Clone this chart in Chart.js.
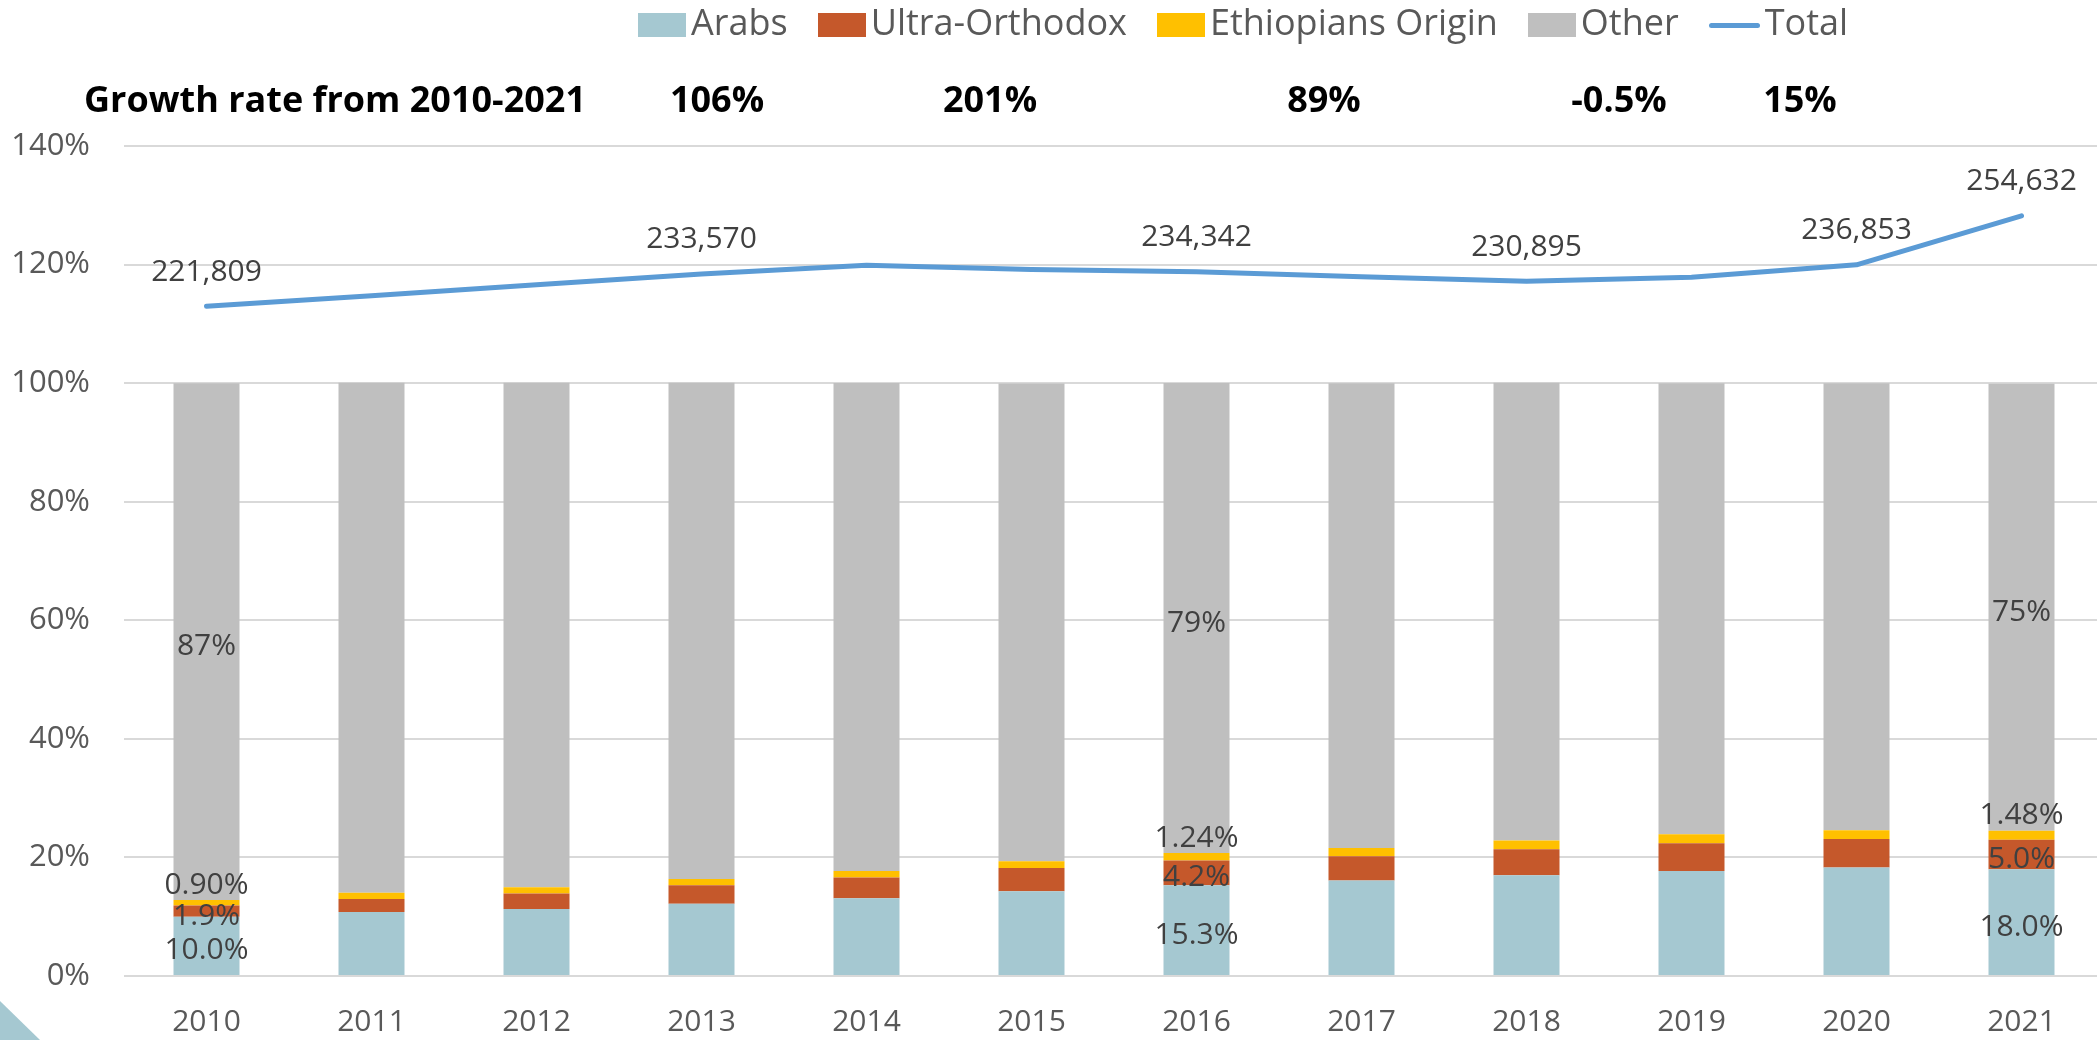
<!DOCTYPE html>
<html>
<head>
<meta charset="utf-8">
<title>Population groups 2010-2021</title>
<script src="https://cdn.jsdelivr.net/npm/chart.js@4.4.1/dist/chart.umd.min.js"></script>
<style>
    html, body { margin: 0; padding: 0; background: #fff; overflow: hidden; }
    body { width: 2097px; height: 1040px; position: relative; font-family: 'Open Sans', sans-serif; }
    #chart { position: absolute; left: 0; top: 0; }

    /* legend row (built from the datasets below) */
    .legend { position: absolute; top: 2px; left: 638px; display: flex; align-items: flex-start; white-space: nowrap; }
    .legend-item { display: flex; align-items: flex-start; margin-right: 30px; }
    .legend-box { width: 48px; height: 24px; margin-top: 11px; margin-right: 5px; }
    .legend-line { width: 51px; height: 5px; border-radius: 3px; margin-top: 21px; margin-right: 5px; }
    .legend-text { font-size: 36px; line-height: 40px; color: #595959; }

    /* growth-rate row */
    .growth { position: absolute; top: 79px; font-size: 36px; line-height: 40px; font-weight: 700; color: #000; white-space: nowrap; }
    .growth.center { transform: translateX(-50%); }

    .corner { position: absolute; left: 0; bottom: 0; width: 40px; height: 39px; background: #A5C8D1;
              clip-path: polygon(0 0, 100% 100%, 0 100%); }
</style>
</head>
<body>
<canvas id="chart" width="2104" height="1040"></canvas>
<div class="legend" id="legend"></div>
<div id="growthRow"></div>
<div class="corner"></div>

<script>
/* ── Data ─────────────────────────────────────────────────────── */

const YEARS = ['2010', '2011', '2012', '2013', '2014', '2015',
               '2016', '2017', '2018', '2019', '2020', '2021'];

// share of each group (%)
const ARABS          = [10.0, 10.8, 11.3, 12.2, 13.1, 14.3, 15.3, 16.1, 17.0, 17.7, 18.3, 18.0];
const ULTRA_ORTHODOX = [1.9, 2.2, 2.6, 3.1, 3.5, 3.9, 4.2, 4.1, 4.4, 4.7, 4.8, 5.0];
const ETHIOPIANS     = [0.90, 1.05, 1.05, 1.05, 1.13, 1.15, 1.24, 1.40, 1.45, 1.50, 1.50, 1.48];
const OTHER          = [87.2, 86.0, 85.1, 83.7, 82.3, 80.6, 79.3, 78.4, 77.2, 76.1, 75.4, 75.4];

// total count
const TOTAL = [221809, 225700, 229600, 233570, 236700, 235200,
               234342, 232500, 230895, 232400, 236853, 254632];

// which points carry a value label
const BAR_LABEL_IDX  = [0, 6, 11];
const LINE_LABEL_IDX = [0, 3, 6, 8, 10, 11];

const GROWTH_TITLE = 'Growth rate from 2010-2021';
const GROWTH_RATES = ['106%', '201%', '89%', '-0.5%', '15%'];

const COLORS = {
    arabs: '#A5C8D1',
    ultra: '#C5582B',
    ethiopians: '#FFC000',
    other: '#BFBFBF',
    total: '#5B9BD5',
};

const FONT = "'Open Sans', sans-serif";

/* ── Value labels plugin ──────────────────────────────────────── */

const LABEL_FMT = [
    v => v.toFixed(1) + '%',
    v => v.toFixed(1) + '%',
    v => v.toFixed(2) + '%',
    v => v.toFixed(0) + '%',
    v => v.toLocaleString('en-US'),
];

const valueLabels = {
    id: 'valueLabels',
    afterDatasetsDraw(chart) {
        const ctx = chart.ctx;
        ctx.save();
        ctx.font = `30px ${FONT}`;
        ctx.fillStyle = '#404040';
        ctx.textAlign = 'center';
        ctx.textBaseline = 'middle';
        chart.data.datasets.forEach((ds, di) => {
            const meta = chart.getDatasetMeta(di);
            const isLine = ds.type === 'line';
            const idx = isLine ? LINE_LABEL_IDX : BAR_LABEL_IDX;
            for (const i of idx) {
                const el = meta.data[i];
                if (!el) continue;
                let y;
                if (isLine) y = el.y - 34;
                else if (di === 2) y = el.y - 15;      // thin segment: label sits on top
                else y = (el.y + el.base) / 2 + 5;
                ctx.fillText(LABEL_FMT[di](ds.data[i]), el.x, y);
            }
        });
        ctx.restore();
    }
};

/* ── Chart ────────────────────────────────────────────────────── */

const chart = new Chart(document.getElementById('chart'), {
    data: {
        labels: YEARS,
        datasets: [
            { type: 'bar', label: 'Arabs', data: ARABS, backgroundColor: COLORS.arabs, stack: 's' },
            { type: 'bar', label: 'Ultra-Orthodox', data: ULTRA_ORTHODOX, backgroundColor: COLORS.ultra, stack: 's' },
            { type: 'bar', label: 'Ethiopians Origin', data: ETHIOPIANS, backgroundColor: COLORS.ethiopians, stack: 's' },
            { type: 'bar', label: 'Other', data: OTHER, backgroundColor: COLORS.other, stack: 's' },
            {
                type: 'line', label: 'Total', data: TOTAL, yAxisID: 'y2',
                borderColor: COLORS.total, borderWidth: 5, borderCapStyle: 'round', borderJoinStyle: 'round',
                pointRadius: 0, tension: 0, fill: false,
            },
        ]
    },
    options: {
        responsive: false,
        animation: false,
        devicePixelRatio: 1,
        layout: { padding: { top: 146, left: 0, right: 0, bottom: 0 } },
        datasets: { bar: { barPercentage: 0.4, categoryPercentage: 1.0 } },
        scales: {
            x: {
                stacked: true,
                grid: { display: false, drawTicks: false },
                border: { display: false },
                ticks: { color: '#595959', font: { family: FONT, size: 30 }, padding: 28 },
                afterFit: (s) => { s.height = 64; },
            },
            y: {
                stacked: true,
                min: 0, max: 140,
                grid: { color: '#D9D9D9', lineWidth: 2, drawTicks: false },
                border: { display: false },
                ticks: {
                    stepSize: 20, color: '#595959', padding: 34,
                    font: { family: FONT, size: 31 },
                    callback: (v) => v + '%',
                },
                afterFit: (s) => { s.width = 124; },
            },
            y2: {
                display: false,
                min: -20833, max: 279919,
            },
        },
        plugins: {
            legend: { display: false },
            tooltip: { enabled: false },
        }
    },
    plugins: [valueLabels]
});

/* ── Legend & growth row (HTML) ───────────────────────────────── */

const legendEl = document.getElementById('legend');
chart.data.datasets.forEach(ds => {
    const item = document.createElement('div');
    item.className = 'legend-item';
    const sw = document.createElement('div');
    if (ds.type === 'line') {
        sw.className = 'legend-line';
        sw.style.background = ds.borderColor;
    } else {
        sw.className = 'legend-box';
        sw.style.background = ds.backgroundColor;
    }
    const tx = document.createElement('span');
    tx.className = 'legend-text';
    tx.textContent = ds.label;
    item.appendChild(sw);
    item.appendChild(tx);
    legendEl.appendChild(item);
});

const growthRow = document.getElementById('growthRow');
const GROWTH_X = [717, 990, 1324, 1619, 1800];
const title = document.createElement('div');
title.className = 'growth';
title.style.left = '84px';
title.textContent = GROWTH_TITLE;
growthRow.appendChild(title);
GROWTH_RATES.forEach((g, i) => {
    const d = document.createElement('div');
    d.className = 'growth center';
    d.style.left = GROWTH_X[i] + 'px';
    d.textContent = g;
    growthRow.appendChild(d);
});
</script>
</body>
</html>
